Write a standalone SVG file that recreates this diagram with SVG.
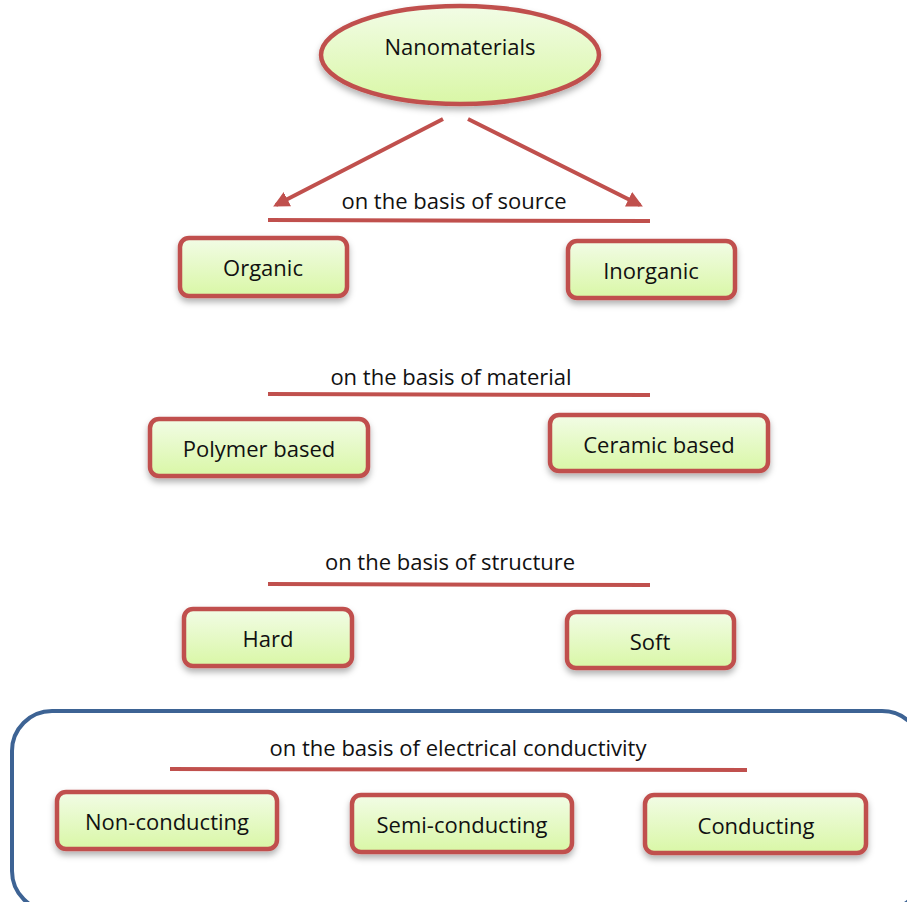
<svg xmlns="http://www.w3.org/2000/svg" width="907" height="902" viewBox="0 0 907 902">
<defs>
<linearGradient id="g" x1="0" y1="0" x2="0" y2="1">
<stop offset="0" stop-color="#f2fce6"/>
<stop offset="1" stop-color="#d9f7a6"/>
</linearGradient>
<filter id="sh" x="-10%" y="-20%" width="120%" height="150%">
<feDropShadow dx="0" dy="4" stdDeviation="3" flood-color="#000" flood-opacity="0.3"/>
</filter>
<marker id="ah" viewBox="0 0 10 10" refX="8" refY="5" markerWidth="4" markerHeight="4" orient="auto" markerUnits="strokeWidth">
<path d="M0,0 L10,5 L0,10 z" fill="#c0504d"/>
</marker>
<style>
.n rect, .n ellipse { fill: url(#g); stroke: #c0504d; stroke-width: 4.5; filter: url(#sh); }
text { font-family: "Open Sans", "Liberation Sans", Arial, sans-serif; font-size: 22px; fill: #111; text-anchor: middle; }
.hl { stroke: #c0504d; stroke-width: 4; fill: none; }
.ar { stroke: #c0504d; stroke-width: 4; fill: none; marker-end: url(#ah); }
</style>
</defs>
<rect width="907" height="902" fill="#fff"/>
<g id="group-box">
<rect x="12" y="711" width="910" height="200" rx="40" fill="none" stroke="#3d6394" stroke-width="4"/>
</g>
<g id="connectors">
<line class="ar" x1="443" y1="119" x2="276" y2="205"/>
<line class="ar" x1="468" y1="119" x2="640" y2="205"/>
<line class="hl" x1="268" y1="220" x2="650" y2="221"/>
<line class="hl" x1="268" y1="394" x2="650" y2="395"/>
<line class="hl" x1="268" y1="584" x2="650" y2="585"/>
<line class="hl" x1="170" y1="769" x2="747" y2="770"/>
</g>
<g id="labels">
<text x="454" y="209">on the basis of source</text>
<text x="451" y="385">on the basis of material</text>
<text x="450" y="570">on the basis of structure</text>
<text x="458" y="756">on the basis of electrical conductivity</text>
</g>
<g id="nanomaterials" class="n"><ellipse cx="460" cy="55" rx="139" ry="49"/><text x="460" y="55">Nanomaterials</text></g>
<g id="organic" class="n"><rect x="180" y="238" width="167" height="58" rx="9"/><text x="263" y="276">Organic</text></g>
<g id="inorganic" class="n"><rect x="568" y="241" width="167" height="57" rx="9"/><text x="651" y="279">Inorganic</text></g>
<g id="polymer" class="n"><rect x="150" y="419" width="218" height="57" rx="9"/><text x="259" y="457">Polymer based</text></g>
<g id="ceramic" class="n"><rect x="550" y="415" width="218" height="56" rx="9"/><text x="659" y="453">Ceramic based</text></g>
<g id="hard" class="n"><rect x="184" y="609" width="168" height="57" rx="9"/><text x="268" y="647">Hard</text></g>
<g id="soft" class="n"><rect x="567" y="612" width="167" height="56" rx="9"/><text x="650" y="650">Soft</text></g>
<g id="nonconducting" class="n"><rect x="57" y="792" width="220" height="57" rx="9"/><text x="167" y="830">Non-conducting</text></g>
<g id="semiconducting" class="n"><rect x="352" y="795" width="220" height="57" rx="9"/><text x="462" y="833">Semi-conducting</text></g>
<g id="conducting" class="n"><rect x="645" y="795" width="221" height="58" rx="9"/><text x="756" y="834">Conducting</text></g>
</svg>
